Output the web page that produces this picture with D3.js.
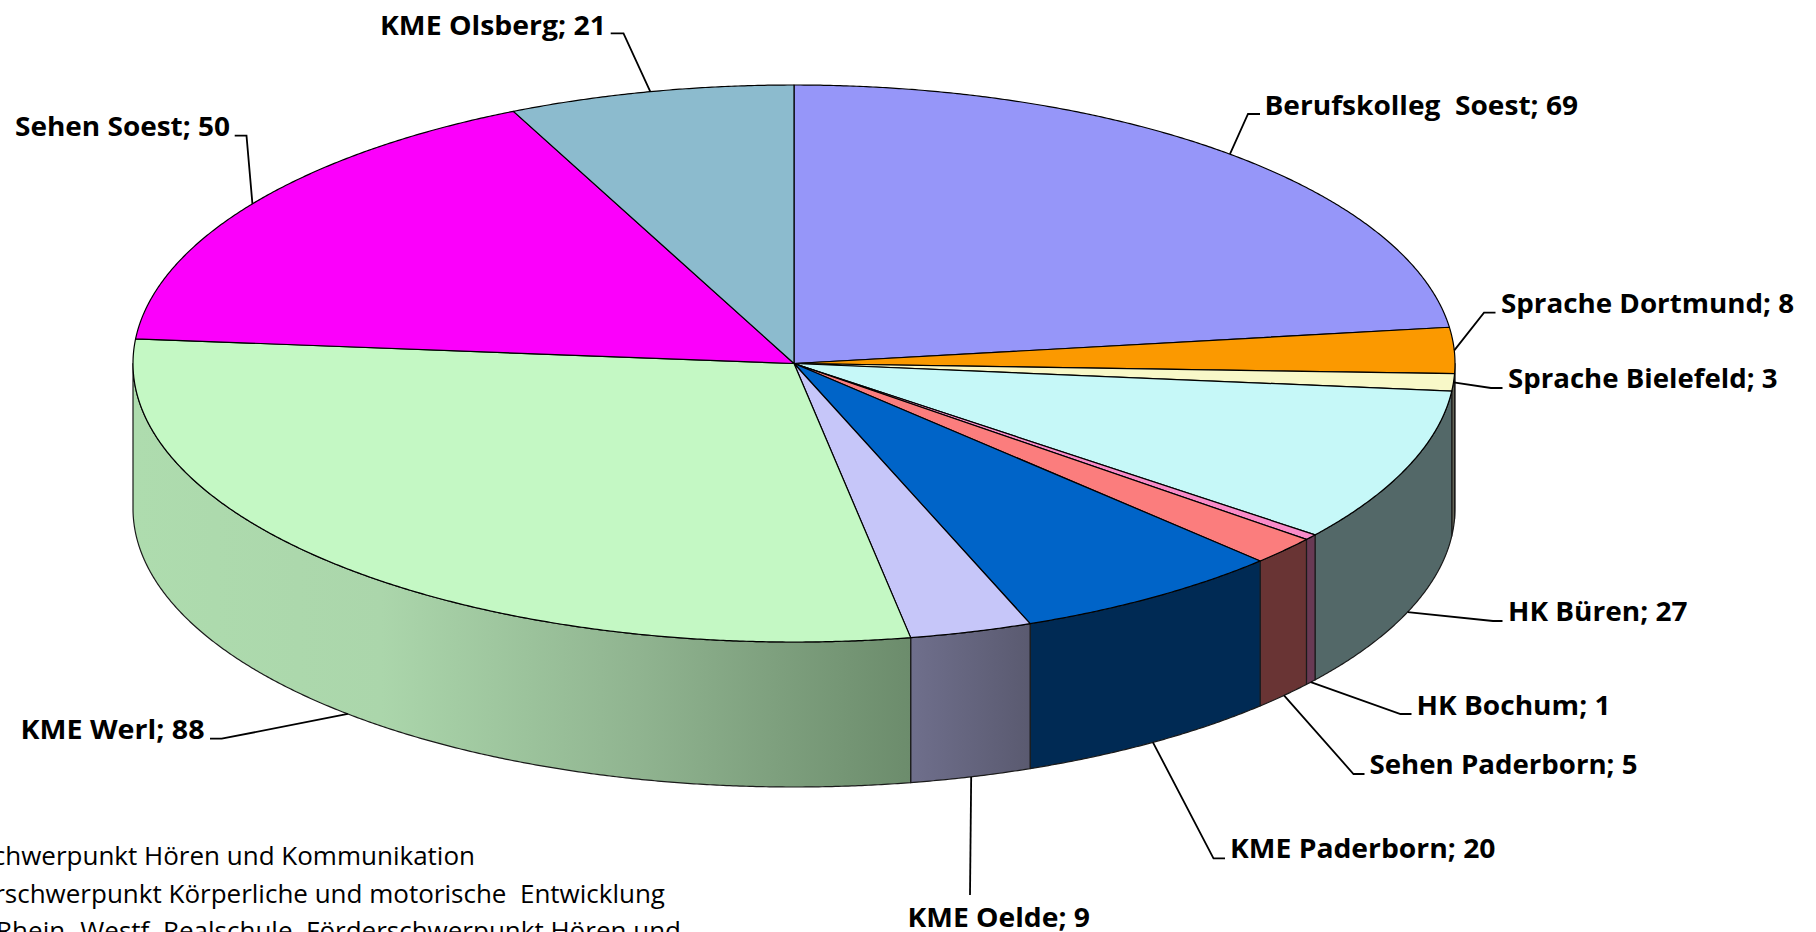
<!DOCTYPE html>
<html lang="de">
<head>
<meta charset="utf-8">
<script src="https://cdn.jsdelivr.net/npm/d3@7"></script>
<style>
html,body{margin:0;padding:0;background:#fff;overflow:hidden}
svg{display:block}
text{white-space:pre;fill:#000}
.lab{font-family:"Open Sans",sans-serif;font-weight:700;font-size:27px}
.note{font-family:"Open Sans",sans-serif;font-weight:400;font-size:26px}
</style>
</head>
<body>
<svg id="chart" width="1816" height="932"></svg>
<script>
const categories = ["Berufskolleg  Soest","Sprache Dortmund","Sprache Bielefeld","HK Büren","HK Bochum","Sehen Paderborn","KME Paderborn","KME Oelde","KME Werl","Sehen Soest","KME Olsberg"];
const values = [69,8,3,27,1,5,20,9,88,50,21];
const topColors = ["#9696f9","#fb9900","#f8f8c8","#c6f8f8","#f98cc9","#fb7d7d","#0064c8","#c6c6f9","#c4f8c4","#fb00fb","#8cbbce"];
const sideColors = ["#3f3f69","#694000","#68685a","#536868","#683a54","#693434","#002a54","#68688a","#aedcae","#690069","#3b4e56"];

// Layout of the labels and leaders
const labelX = [1264.5,1501,1508,1508,1416.5,1369.5,1230,907.5,20.5,15,380];
const labelY = [115,312.5,388,620.5,714.5,774,858,926.5,739,136,34.5];
const labelW = [313.5,293,269.5,179.5,194,268,265.5,182.5,184,215,226];
const elbowX = [1248,1484,1491,1493,1400.5,1353.5,1213.5,null,221.7,246.5,623.5];
const elbowY = [114,312.7,388,621,714,774,858.3,null,738.7,135.7,33.3];
const tailX  = [1260,1495.5,1502.5,1502.5,1411.5,1364.5,1225,970,210,234.7,610.7];
const tailY  = [114,312.7,388,621,714,774,858.3,895,738.7,135.7,33.3];
const notes = ["Förderschwerpunkt Hören und Kommunikation","Förderschwerpunkt Körperliche und motorische  Entwicklung","Rhein.-Westf. Realschule, Förderschwerpunkt Hören und"];
const noteEnd = [475,665,681];
const noteY = [865,902.7,940];

const sideGradients = {
  8: [[0,"#aedcae"],[0.32,"#abd6ab"],[0.65,"#90b490"],[1,"#6c8c6c"]],
  7: [[0,"#6f6f8c"],[1,"#5a5a70"]]
};

const cx = 794, cy = 363.5, rx = 661, ry = 278.5, depth = 145;
const sx = d3.scaleLinear().domain([-1,1]).range([cx-rx,cx+rx]);
const sy = d3.scaleLinear().domain([-1,1]).range([cy-ry,cy+ry]);
const ptX = a => sx(Math.sin(a));
const ptY = a => sy(-Math.cos(a));

const svg = d3.select("#chart");
const defs = svg.append("defs");
const pie = d3.pie().sort(null)(values);
const line = d3.line();
const samples = (a0,a1) => d3.range(0,Math.max(2,Math.ceil((a1-a0)*200))+1).map((i,_,arr)=>a0+(a1-a0)*i/(arr.length-1));

// Side wall: only the front half of the disc shows
const sides = pie.map((d,i)=>({i,a0:Math.max(d.startAngle,Math.PI/2),a1:Math.min(d.endAngle,Math.PI*1.5)})).filter(d=>d.a1>d.a0);
sides.forEach(d=>{
  const stops = sideGradients[d.i];
  if(!stops) return;
  const xs=[ptX(d.a0),ptX(d.a1)];
  const g=defs.append("linearGradient").attr("id","side"+d.i).attr("gradientUnits","userSpaceOnUse")
    .attr("x1",d3.min(xs)).attr("x2",d3.max(xs)).attr("y1",0).attr("y2",0);
  stops.forEach(s=>g.append("stop").attr("offset",s[0]).attr("stop-color",s[1]));
});
svg.append("g").selectAll("path").data(sides).join("path")
  .attr("d",d=>{
    const arc=samples(d.a0,d.a1);
    const pts=arc.map(a=>[ptX(a),ptY(a)]).concat(arc.slice().reverse().map(a=>[ptX(a),ptY(a)+depth]));
    return line(pts)+"Z";
  })
  .attr("fill",d=>sideGradients[d.i]?`url(#side${d.i})`:sideColors[d.i])
  .attr("stroke","#1a1a1a").attr("stroke-width",1.2).attr("stroke-linejoin","round");

// Top face
svg.append("g").selectAll("path").data(pie).join("path")
  .attr("d",d=>line([[sx(0),sy(0)]].concat(samples(d.startAngle,d.endAngle).map(a=>[ptX(a),ptY(a)])))+"Z")
  .attr("fill",(d,i)=>topColors[i])
  .attr("stroke","#000").attr("stroke-width",1.2).attr("stroke-linejoin","round");

// Leaders start on the rim at each slice's middle angle
const leaders = pie.map((d,i)=>{
  const mid=(d.startAngle+d.endAngle)/2;
  const front=mid>Math.PI*0.53&&mid<Math.PI*1.47;
  const start=[ptX(mid),ptY(mid)+(front?depth:0)];
  const pts=[start];
  if(elbowX[i]!==null) pts.push([elbowX[i],elbowY[i]]);
  pts.push([tailX[i],tailY[i]]);
  return pts;
});
svg.append("g").selectAll("path").data(leaders).join("path")
  .attr("d",line).attr("fill","none").attr("stroke","#000").attr("stroke-width",1.8);

svg.append("g").selectAll("text").data(categories).join("text")
  .attr("class","lab")
  .attr("x",(d,i)=>labelX[i]).attr("y",(d,i)=>labelY[i])
  .attr("textLength",(d,i)=>labelW[i]).attr("lengthAdjust","spacingAndGlyphs")
  .text((d,i)=>`${d}; ${values[i]}`);

svg.append("g").selectAll("text").data(notes).join("text")
  .attr("class","note").attr("text-anchor","end")
  .attr("x",(d,i)=>noteEnd[i]).attr("y",(d,i)=>noteY[i]).text(d=>d);
</script>
</body>
</html>
